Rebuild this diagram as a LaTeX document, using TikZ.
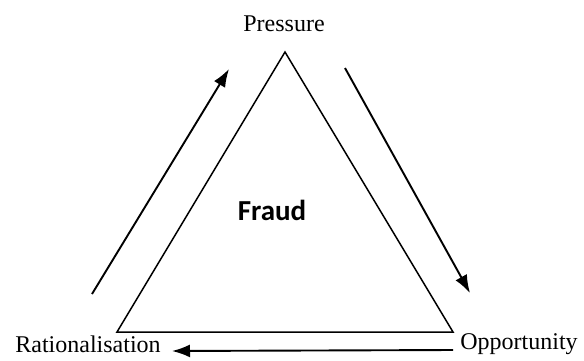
\documentclass[tikz,border=0pt]{standalone}
\usepackage{fontspec}
\setmainfont{Liberation Serif}
\newfontfamily\calfont{Carlito}
\usetikzlibrary{arrows.meta}
\begin{document}
\begin{tikzpicture}[x=1pt,y=-1pt]
    \tikzstyle{lb} = [font=\fontsize{24}{28}\selectfont,inner sep=0pt] %label
    \tikzstyle{sd} = [-,line width=1.5pt] %triangle side
    \tikzstyle{ar} = [-{Latex[length=18pt,width=13pt]},line width=1.9pt] %arrow
    \useasboundingbox (0,0) rectangle (584,360);
    \coordinate(tp)at(285,52);
    \coordinate(tl)at(117,332);
    \coordinate(tr)at(453,332);
    \node[lb,anchor=base](press)at(284,31){Pressure};
    \node[lb,anchor=base](ratio)at(88,352){Rationalisation};
    \node[lb,anchor=base](oppo)at(519,349){Opportunity};
    \node[inner sep=0pt,anchor=base,font=\calfont\bfseries\fontsize{29}{33}\selectfont](fraud)at(272,220){Fraud};
    \draw[sd](tp)--(tr)--(tl)--cycle;
    \coordinate(la)at(92,294);
    \coordinate(lb)at(229,69);
    \coordinate(ra)at(345,68);
    \coordinate(rb)at(470,293);
    \coordinate(ba)at(453,350);
    \coordinate(bb)at(172,351);
    \draw[ar](la)--(lb);
    \draw[ar](ra)--(rb);
    \draw[ar](ba)--(bb);
  \end{tikzpicture}
\end{document}
